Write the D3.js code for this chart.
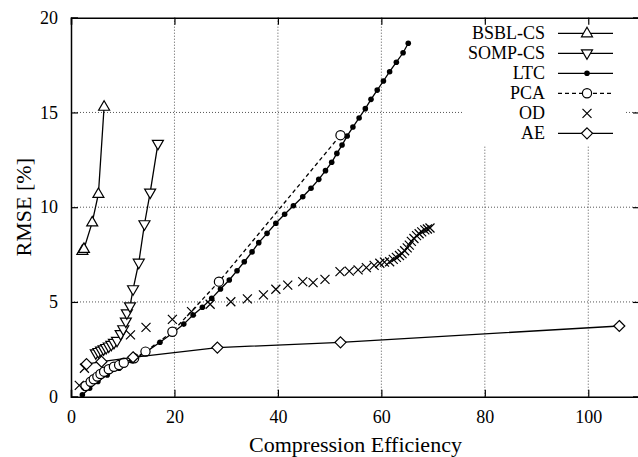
<!DOCTYPE html>
<html>
<head>
<meta charset="utf-8">
<script src="https://cdn.jsdelivr.net/npm/d3@7"></script>
<style>
  body { margin: 0; background: #fff; }
  svg text { font-family: "Liberation Serif", "Times New Roman", Times, "DejaVu Serif", serif !important; fill: #000; }
</style>
</head>
<body>
<div id="chart"></div>
<script>
var width = 638,
    height = 457,
    margin = {left: 71, right: -2, top: 17.7, bottom: 60.3};

// [compression efficiency, RMSE %]
var bsbl = [[2.2, 7.7], [2.5, 7.8], [4.1, 9.2], [5.3, 10.7], [6.4, 15.3]];
var somp = [[4.8, 2.29], [5.3, 2.36], [5.8, 2.43], [6.3, 2.5], [6.8, 2.57], [7.3, 2.65],
            [7.8, 2.74], [8.3, 2.84], [8.9, 2.95], [9.6, 3.3], [10.1, 3.56], [10.6, 3.96],
            [10.8, 4.4], [11.4, 4.77], [12.0, 5.67], [13.1, 7.07], [14.2, 9.1],
            [15.3, 10.77], [16.8, 13.34]];
var ltc = [[2.2, 0.1], [3.6, 0.45], [5.2, 0.8], [7.0, 1.15], [9.3, 1.5], [11.8, 1.9],
           [14.6, 2.38], [17.2, 2.87], [19.6, 3.35], [21.8, 3.83], [23.6, 4.31], [25.4, 4.72],
           [27.2, 5.19], [28.9, 5.68], [30.6, 6.16], [32.1, 6.65], [33.5, 7.12], [35.0, 7.64],
           [36.3, 8.13], [37.9, 8.62], [39.6, 9.15], [41.3, 9.63], [43.0, 10.08], [44.8, 10.55],
           [46.4, 11.0], [47.9, 11.47], [49.2, 11.93], [50.4, 12.37], [51.4, 12.84], [52.4, 13.28],
           [53.4, 13.76], [54.5, 14.23], [55.7, 14.71], [56.9, 15.2], [58.0, 15.69], [59.2, 16.18],
           [60.4, 16.66], [61.6, 17.15], [62.9, 17.65], [64.2, 18.15], [65.2, 18.65]];
var pca = [[2.8, 0.56], [3.8, 0.79], [4.4, 0.92], [5.1, 1.06], [5.7, 1.2], [6.4, 1.32],
           [7.3, 1.45], [8.3, 1.58], [9.3, 1.67], [10.2, 1.79], [12.2, 2.03], [14.4, 2.38],
           [19.6, 3.43], [28.6, 6.07], [52.1, 13.8]];
var od = [[1.6, 0.6], [2.6, 1.5], [11.5, 3.26], [14.5, 3.66], [19.6, 4.08], [23.3, 4.49],
          [26.9, 4.88], [30.9, 5.01], [34.1, 5.16], [37.2, 5.37], [39.6, 5.67], [41.9, 5.89],
          [44.8, 6.07], [46.8, 6.02], [49.1, 6.19], [52.0, 6.6], [53.8, 6.63], [55.5, 6.69],
          [57.1, 6.81], [58.6, 6.93], [59.7, 7.04], [60.6, 7.1], [61.6, 7.12], [62.3, 7.25],
          [62.9, 7.35], [63.5, 7.45], [64.0, 7.55], [64.5, 7.7], [65.0, 7.85], [65.4, 8.0],
          [65.8, 8.2], [66.3, 8.35], [66.8, 8.5], [67.3, 8.6], [67.8, 8.7], [68.4, 8.8],
          [68.9, 8.85], [69.4, 8.9]];
var ae = [[3.0, 1.72], [5.9, 1.85], [12.0, 2.08], [28.3, 2.59], [52.1, 2.87], [106, 3.73]];

var xTicks = [0, 20, 40, 60, 80, 100],
    yTicks = [0, 5, 10, 15, 20];

var series = [
  {name: "BSBL-CS", data: bsbl, marker: "up", line: "solid"},
  {name: "SOMP-CS", data: somp, marker: "down", line: "solid"},
  {name: "LTC", data: ltc, marker: "dot", line: "solid"},
  {name: "PCA", data: pca, marker: "circle", line: "dashed"},
  {name: "OD", data: od, marker: "x", line: "none"},
  {name: "AE", data: ae, marker: "diamond", line: "solid"}
];

var x = d3.scaleLinear().domain([0, 110]).range([margin.left, width - margin.right]);
var y = d3.scaleLinear().domain([0, 20]).range([height - margin.bottom, margin.top]);

var svg = d3.select("#chart").append("svg")
    .attr("width", width)
    .attr("height", height);

// dotted grid
svg.append("g").selectAll("line.gx")
    .data(xTicks.slice(1))
  .enter().append("line")
    .attr("x1", function(d) { return x(d); })
    .attr("x2", function(d) { return x(d); })
    .attr("y1", y(0))
    .attr("y2", y(20))
    .attr("stroke", "#555")
    .attr("stroke-width", 1)
    .attr("stroke-dasharray", "1,2");
svg.append("g").selectAll("line.gy")
    .data(yTicks.slice(1, -1))
  .enter().append("line")
    .attr("x1", x(0))
    .attr("x2", x(110))
    .attr("y1", function(d) { return y(d); })
    .attr("y2", function(d) { return y(d); })
    .attr("stroke", "#555")
    .attr("stroke-width", 1)
    .attr("stroke-dasharray", "1,2");

// legend background hides the grid
svg.append("rect")
    .attr("x", 462).attr("y", 21)
    .attr("width", 162).attr("height", 124)
    .attr("fill", "#fff");

// axes with mirrored inward ticks
var tick = 7;
svg.append("g")
    .attr("transform", "translate(0," + y(0) + ")")
    .call(d3.axisBottom(x).tickValues(xTicks).tickSize(-tick).tickPadding(14))
    .call(axisStyle);
svg.append("g")
    .attr("transform", "translate(0," + y(20) + ")")
    .call(d3.axisTop(x).tickValues(xTicks).tickSize(-tick).tickFormat(""))
    .call(axisStyle);
svg.append("g")
    .attr("transform", "translate(" + x(0) + ",0)")
    .call(d3.axisLeft(y).tickValues(yTicks).tickSize(-tick).tickPadding(13))
    .call(axisStyle);
svg.append("g")
    .attr("transform", "translate(" + x(110) + ",0)")
    .call(d3.axisRight(y).tickValues(yTicks).tickSize(-tick).tickFormat(""))
    .call(axisStyle);

function axisStyle(g) {
  g.select(".domain").attr("stroke", "#000").attr("stroke-width", 1.5);
  g.selectAll(".tick line").attr("stroke", "#000").attr("stroke-width", 1.2);
  g.selectAll(".tick text").attr("font-size", 18).attr("fill", "#000");
}

// titles
svg.append("text")
    .attr("x", (x(0) + x(110)) / 2)
    .attr("y", 452)
    .attr("text-anchor", "middle")
    .attr("font-size", 22)
    .text("Compression Efficiency");
svg.append("text")
    .attr("transform", "translate(31," + y(10) + ") rotate(-90)")
    .attr("text-anchor", "middle")
    .attr("font-size", 22)
    .text("RMSE [%]");

// markers
function markerPath(type) {
  if (type === "up") return "M0,-6L5.5,3.5L-5.5,3.5Z";
  if (type === "down") return "M0,6L5.5,-3.5L-5.5,-3.5Z";
  if (type === "x") return "M-4.5,-4.5L4.5,4.5M-4.5,4.5L4.5,-4.5";
  if (type === "diamond") return "M0,-5.5L5.5,0L0,5.5L-5.5,0Z";
  return null;
}

function drawMarker(sel, type) {
  if (type === "dot") {
    sel.append("circle").attr("r", 2.8).attr("fill", "#000");
  } else if (type === "circle") {
    sel.append("circle").attr("r", 4.6)
        .attr("fill", "#fff").attr("stroke", "#000").attr("stroke-width", 1.2);
  } else {
    sel.append("path").attr("d", markerPath(type))
        .attr("fill", type === "x" ? "none" : "#fff")
        .attr("stroke", "#000").attr("stroke-width", 1.2);
  }
}

var line = d3.line()
    .x(function(d) { return x(d[0]); })
    .y(function(d) { return y(d[1]); });

series.forEach(function(s) {
  var g = svg.append("g");
  if (s.line !== "none") {
    g.append("path")
        .attr("d", line(s.data))
        .attr("fill", "none")
        .attr("stroke", "#000")
        .attr("stroke-width", 1.3)
        .attr("stroke-dasharray", s.line === "dashed" ? "4,3" : null);
  }
  g.selectAll("g.pt")
      .data(s.data)
    .enter().append("g")
      .attr("transform", function(d) { return "translate(" + x(d[0]) + "," + y(d[1]) + ")"; })
      .each(function() { drawMarker(d3.select(this), s.marker); });
});

// legend
var legend = svg.append("g").selectAll("g.leg")
    .data(series)
  .enter().append("g")
    .attr("transform", function(d, i) { return "translate(0," + (33.3 + i * 20) + ")"; });
legend.append("text")
    .attr("x", 545)
    .attr("y", 6)
    .attr("text-anchor", "end")
    .attr("font-size", 18)
    .text(function(d) { return d.name; });
legend.filter(function(d) { return d.line !== "none"; })
  .append("line")
    .attr("x1", 558).attr("x2", 613)
    .attr("y1", 0).attr("y2", 0)
    .attr("stroke", "#000")
    .attr("stroke-width", 1.3)
    .attr("stroke-dasharray", function(d) { return d.line === "dashed" ? "4,3" : null; });
legend.append("g")
    .attr("transform", "translate(587,0)")
    .each(function(d) { drawMarker(d3.select(this), d.marker); });
</script>
</body>
</html>
